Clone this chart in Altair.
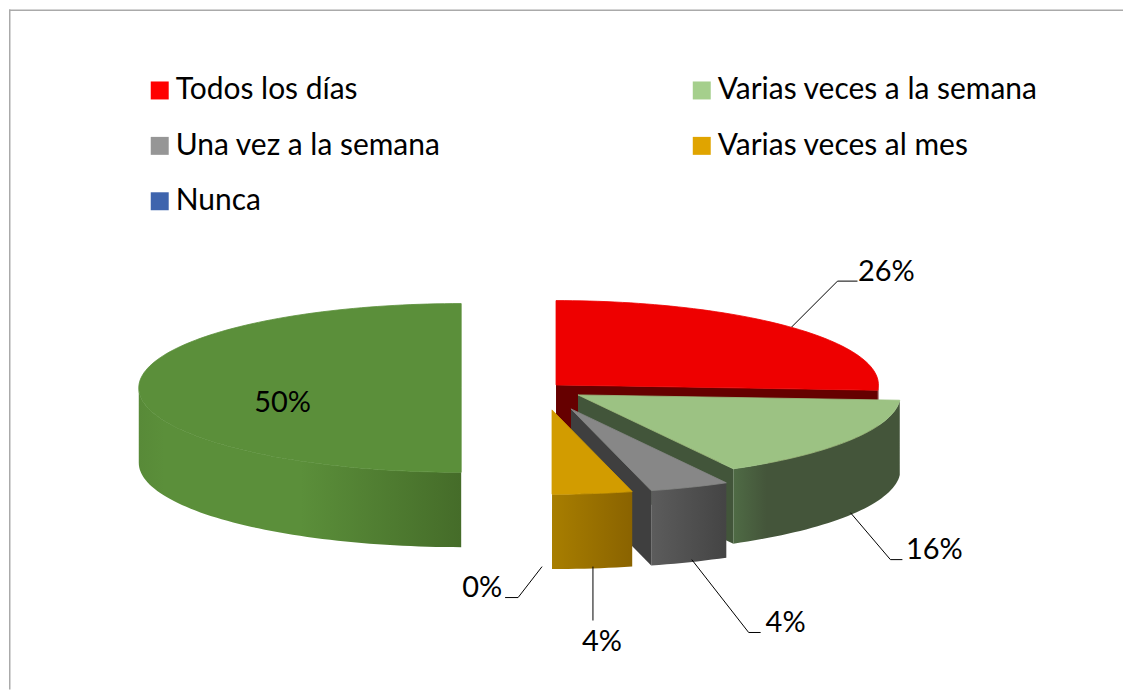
import math
import altair as alt

# ---- values
categories = ["Todos los días", "Varias veces a la semana", "Una vez a la semana", "Varias veces al mes", "Nunca", "(sin leyenda)"]
shares = [26, 16, 4, 4, 0, 50]
legend_colors = ["#ff0000", "#a5cf8c", "#969696", "#e0a400", "#3e64ad"]

# ---- styles and geometry of the 3-D pie (page pixels minus the 8px margin)
W, H = 1116, 681
RX, RY, DEPTH = 323, 84.5, 75
CENTER = (508, 379)
EXPLODE = [(40, -3), (62, 7), (55, 21), (36, 22), (36, 22), (-55, 0)]
TOP = ["#ee0000", "#9cc283", "#878787", "#d29c00", "#3e64ad", "#5b8f3a"]
CUT = ["#660000", "#42553a", "#3f3f3f", "#8a6300", "#2a4478", "#456c29"]
RIM = [
    [(0, "#660000"), (1, "#660000")],
    [(0, "#4f6b45"), (0.2, "#44553a"), (1, "#44553a")],
    [(0, "#5c5c5c"), (1, "#444444")],
    [(0, "#a87e00"), (1, "#8a6300")],
    [(0, "#2a4478"), (1, "#2a4478")],
    [(0, "#588a38"), (0.08, "#5b8f3a"), (0.5, "#5b8f3a"), (1, "#456c29")],
]
DRAW_ORDER = [5, 0, 1, 2, 3, 4]

LABEL_POS = [(879, 263), (927, 541), (778, 615), (594, 634), (474, 579), (274, 394)]
LEADERS = [
    [(784, 318), (830, 272), (850, 272)],
    [(843, 504), (883, 551), (895, 551)],
    [(684, 551), (741, 624), (753, 624)],
    [(585, 558), (585, 612)],
    [(534, 558), (510, 589), (497, 589)],
]


def feature(points):
    ring = [[round(x, 2), round(y, 2)] for x, y in points]
    ring.append(ring[0])
    return {"type": "Feature", "geometry": {"type": "Polygon", "coordinates": [ring]}, "properties": {}}


def rim_point(apex, deg):
    r = math.radians(deg)
    return (apex[0] + RX * math.sin(r), apex[1] - RY * math.cos(r))


def arc_degrees(a0, a1, step=1.5):
    n = max(1, math.ceil((a1 - a0) / step))
    return [a0 + (a1 - a0) * i / n for i in range(n + 1)]


def face(points, fill, edge=None):
    style = {"stroke": edge, "strokeWidth": 0.8} if edge else {"strokeWidth": 0}
    return (
        alt.Chart(alt.Data(values=[feature(points)]))
        .mark_geoshape(fill=fill, **style)
        .project(type="identity", scale=1, translate=[0, 0])
    )


cum = [0]
for s in shares:
    cum.append(cum[-1] + s * 3.6)

faces = []
for i in DRAW_ORDER:
    if shares[i] == 0:
        continue
    a0, a1 = cum[i], cum[i + 1]
    apex = (CENTER[0] + EXPLODE[i][0], CENTER[1] + EXPLODE[i][1])
    # cut face along the trailing edge, when it looks toward the viewer
    if 90 < a1 <= 180:
        e = rim_point(apex, a1)
        faces.append(face([apex, e, (e[0], e[1] + DEPTH), (apex[0], apex[1] + DEPTH)], CUT[i]))
    # outer wall: only the front half of the rim can be seen
    lo, hi = max(a0, 90), min(a1, 270)
    if hi > lo:
        rim = [rim_point(apex, d) for d in arc_degrees(lo, hi)]
        wall = rim + [(x, y + DEPTH) for x, y in reversed(rim)]
        gradient = alt.Gradient(
            gradient="linear", x1=0, x2=1, y1=0, y2=0,
            stops=[alt.GradientStop(offset=t, color=c) for t, c in RIM[i]],
        )
        faces.append(face(wall, gradient))
    # top face
    faces.append(face([apex] + [rim_point(apex, d) for d in arc_degrees(a0, a1)], TOP[i], TOP[i]))

legend_rows = [{"cat": c} for c in categories[:5]]
legend_layer = (
    alt.Chart(alt.Data(values=legend_rows))
    .mark_point(opacity=0, filled=True)
    .encode(
        x=alt.value(W / 2),
        y=alt.value(H / 2),
        color=alt.Color(
            "cat:N",
            title=None,
            sort=categories[:5],
            scale=alt.Scale(domain=categories[:5], range=legend_colors),
            legend=alt.Legend(
                orient="none",
                legendX=136,
                legendY=66,
                columns=2,
                direction="horizontal",
                symbolType="square",
                symbolSize=324,
                symbolStrokeWidth=0,
                symbolOpacity=1,
                labelFont="Lato",
                labelFontSize=30,
                labelColor="#000000",
                labelLimit=500,
                labelOffset=1,
                columnPadding=246,
                rowPadding=25.5,
                padding=0,
            ),
        ),
    )
)

xs = alt.X("x:Q", scale=alt.Scale(domain=[0, W], range=[0, W]), axis=None)
ys = alt.Y("y:Q", scale=alt.Scale(domain=[0, H], range=[0, H]), axis=None)

label_rows = [{"t": f"{s}%", "x": p[0], "y": p[1]} for s, p in zip(shares, LABEL_POS)]
labels = (
    alt.Chart(alt.Data(values=label_rows))
    .mark_text(font="Lato", fontSize=29, color="#000000", baseline="middle", align="center")
    .encode(x=xs, y=ys, text="t:N")
)

leader_rows = [
    {"k": k, "o": j, "x": p[0], "y": p[1]} for k, pts in enumerate(LEADERS) for j, p in enumerate(pts)
]
leaders = (
    alt.Chart(alt.Data(values=leader_rows))
    .mark_line(color="#000000", strokeWidth=1)
    .encode(x=xs, y=ys, detail="k:N", order="o:Q")
)

frame_top = alt.Chart(alt.Data(values=[{"a": 0}])).mark_rule(color="#aaaaaa", strokeWidth=1.5).encode(
    x=alt.value(0), x2=alt.value(W), y=alt.value(0.75)
)
frame_left = alt.Chart(alt.Data(values=[{"a": 0}])).mark_rule(color="#aaaaaa", strokeWidth=1.5).encode(
    x=alt.value(0.75), y=alt.value(0), y2=alt.value(H)
)

chart = (
    alt.layer(frame_top, frame_left, *faces, legend_layer, leaders, labels)
    .properties(width=W, height=H, padding=0, background="#ffffff")
    .configure_view(stroke=None)
)

chart.save("out.html", embed_options={"renderer": "svg", "actions": False})
